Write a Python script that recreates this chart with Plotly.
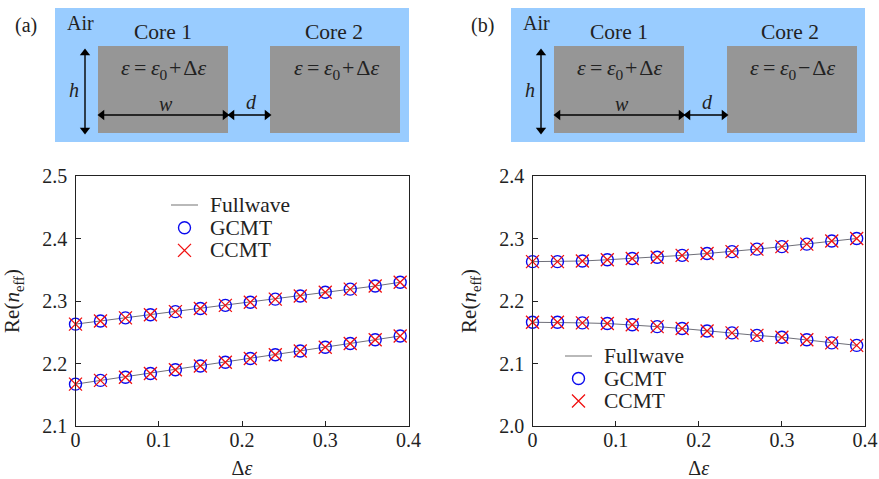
import plotly.graph_objects as go

W, H = 879, 479
FONT = "Liberation Serif"
TXT = "#222222"

delta_eps = [0, 0.03, 0.06, 0.09, 0.12, 0.15, 0.18, 0.21, 0.24, 0.27, 0.30, 0.33, 0.36, 0.39]
a_upper = [2.263, 2.268, 2.273, 2.278, 2.283, 2.288, 2.293, 2.298, 2.303, 2.308, 2.314, 2.319, 2.324, 2.330]
a_lower = [2.167, 2.173, 2.178, 2.184, 2.190, 2.196, 2.202, 2.208, 2.214, 2.220, 2.226, 2.232, 2.238, 2.244]
b_upper = [2.263, 2.263, 2.264, 2.266, 2.268, 2.270, 2.273, 2.276, 2.279, 2.283, 2.287, 2.291, 2.296, 2.300]
b_lower = [2.166, 2.166, 2.165, 2.164, 2.162, 2.159, 2.156, 2.152, 2.149, 2.145, 2.142, 2.138, 2.133, 2.129]
x_ticks = [0, 0.1, 0.2, 0.3, 0.4]
x_labels = ["0", "0.1", "0.2", "0.3", "0.4"]
a_yticks = [2.1, 2.2, 2.3, 2.4, 2.5]
b_yticks = [2.0, 2.1, 2.2, 2.3, 2.4]
names = ["Fullwave", "GCMT", "CCMT"]

BLUE = "#0a0aee"
RED = "#f01010"
LINE = "#6f6f78"
CIRCLE = dict(symbol="circle-open", size=12, color=BLUE, line=dict(width=1.4, color=BLUE))
CROSS = dict(symbol="x-thin-open", size=13, color=RED, line=dict(width=1.3, color=RED))


def px(x):
    return x / W


def py(y):
    return 1 - y / H


fig = go.Figure()


def add_panel(xa, ya, upper, lower):
    for ys in [upper, lower]:
        fig.add_trace(go.Scatter(x=delta_eps, y=ys, mode="lines", xaxis=xa, yaxis=ya, name=names[0],
                                 line=dict(color=LINE, width=1), showlegend=False, cliponaxis=False))
    for ys in [upper, lower]:
        fig.add_trace(go.Scatter(x=delta_eps, y=ys, mode="markers", xaxis=xa, yaxis=ya, name=names[1],
                                 marker=CIRCLE, showlegend=False, cliponaxis=False))
    for ys in [upper, lower]:
        fig.add_trace(go.Scatter(x=delta_eps, y=ys, mode="markers", xaxis=xa, yaxis=ya, name=names[2],
                                 marker=CROSS, showlegend=False, cliponaxis=False))


add_panel("x", "y", a_upper, a_lower)
add_panel("x2", "y2", b_upper, b_lower)

axis_common = dict(showline=True, mirror=True, linecolor="#222222", linewidth=1.4, ticks="inside", ticklen=5,
                   tickwidth=1, tickcolor="#222222", showgrid=False, zeroline=False,
                   tickfont=dict(family=FONT, size=20, color=TXT))
xtitle = dict(text="Δ<i>ε</i>", font=dict(family=FONT, size=20, color=TXT), standoff=20)
ytitle = dict(text="Re(<i>n</i><sub>eff</sub>)", font=dict(family=FONT, size=21, color=TXT), standoff=16)

overlay = dict(visible=False, domain=[0, 1], fixedrange=True)
fig.update_layout(
    width=W, height=H, margin=dict(l=0, r=0, t=0, b=0, autoexpand=False), autosize=False,
    paper_bgcolor="white", plot_bgcolor="rgba(0,0,0,0)", showlegend=False,
    xaxis=dict(domain=[px(75.5), px(408.5)], range=[0, 0.4], tickvals=x_ticks, ticktext=x_labels, title=xtitle,
               anchor="y", ticklabelstandoff=-4, **axis_common),
    yaxis=dict(domain=[py(426), py(176)], range=[2.1, 2.5], tickvals=a_yticks, tickformat=".1f", title=ytitle,
               anchor="x", ticklabelstandoff=3, **axis_common),
    xaxis2=dict(domain=[px(532.5), px(865)], range=[0, 0.4], tickvals=x_ticks, ticktext=x_labels, title=xtitle,
                anchor="y2", ticklabelstandoff=-4, **axis_common),
    yaxis2=dict(domain=[py(426), py(176)], range=[2.0, 2.4], tickvals=b_yticks, tickformat=".1f", title=ytitle,
                anchor="x2", ticklabelstandoff=3, **axis_common),
    xaxis3=dict(range=[0, W], anchor="y3", **overlay),
    yaxis3=dict(range=[H, 0], anchor="x3", **overlay),
)

shapes = []
annotations = []


def rect(x0, y0, x1, y1, color):
    shapes.append(dict(type="rect", xref="paper", yref="paper", x0=px(x0), x1=px(x1), y0=py(y1), y1=py(y0),
                       fillcolor=color, line=dict(width=0), layer="below"))


def text(x, y, s, size=20, anchor="center"):
    annotations.append(dict(xref="paper", yref="paper", x=px(x), y=py(y), text=s, showarrow=False,
                            xanchor=anchor, yanchor="middle", font=dict(family=FONT, size=size, color=TXT)))


def arrow(x0, y0, x1, y1):
    horizontal = y0 == y1
    fig.add_trace(go.Scatter(x=[x0, x1], y=[y0, y1], mode="lines", xaxis="x3", yaxis="y3", showlegend=False,
                             line=dict(color="#000000", width=1.4), hoverinfo="skip"))
    syms = ["triangle-left", "triangle-right"] if horizontal else ["triangle-up", "triangle-down"]
    fig.add_trace(go.Scatter(x=[x0, x1], y=[y0, y1], mode="markers", xaxis="x3", yaxis="y3", showlegend=False,
                             marker=dict(symbol=syms, size=9, color="#000000", line=dict(width=0)), hoverinfo="skip"))


def schematic(ox, dx2, sign2, label, lx):
    rect(ox, 8, ox + 354, 142, "#99ccff")
    rect(ox + 43, 46, ox + 173, 133, "#969696")
    rect(ox + 215 + dx2, 46, ox + 345 + dx2, 133, "#969696")
    text(ox + 25.5, 23, "Air", 20)
    text(ox + 108, 31.5, "Core 1", 21.5)
    text(ox + 278.5, 31.5, "Core 2", 21.5)
    eq = "<i>ε</i>\u2009=\u2009<i>ε</i><sub>0</sub>\u200a"
    text(ox + 109, 69, eq + "+\u200aΔ<i>ε</i>", 22)
    text(ox + 282, 69, eq + sign2 + "\u200aΔ<i>ε</i>", 22)
    text(ox + 19, 90, "<i>h</i>", 20)
    text(ox + 111, 104, "<i>w</i>", 20)
    text(ox + 196, 102, "<i>d</i>", 20)
    text(lx, 25, label, 20)
    arrow(ox + 30, 53, ox + 30, 130)
    arrow(ox + 47, 115, ox + 170, 115)
    arrow(ox + 177, 115, ox + 212 + dx2, 115)


schematic(55, 0, "+", "(a)", 25.5)
schematic(511, 1, "−", "(b)", 483)


def key(x0, x1, y0, y1):
    """Hand-placed key, spacing of a native legend is tied to its font size."""
    xm = (x0 + x1) / 2
    fig.add_trace(go.Scatter(x=[x0, x1], y=[y0, y0], mode="lines", xaxis="x3", yaxis="y3", showlegend=False,
                             line=dict(color="#808080", width=1.1), hoverinfo="skip"))
    fig.add_trace(go.Scatter(x=[xm], y=[y0 + y1], mode="markers", xaxis="x3", yaxis="y3", showlegend=False,
                             marker=CIRCLE, hoverinfo="skip"))
    fig.add_trace(go.Scatter(x=[xm], y=[y0 + 2 * y1], mode="markers", xaxis="x3", yaxis="y3", showlegend=False,
                             marker=CROSS, hoverinfo="skip"))
    for i, name in enumerate(names):
        text(x1 + 10, y0 + i * y1, name, 21.5, "left")


key(171, 198, 205, 22.7)
key(565, 592, 356, 22.5)

fig.update_layout(shapes=shapes, annotations=annotations)

fig.write_html("out.html", config=dict(displayModeBar=False), post_script="document.body.style.margin='0';")
